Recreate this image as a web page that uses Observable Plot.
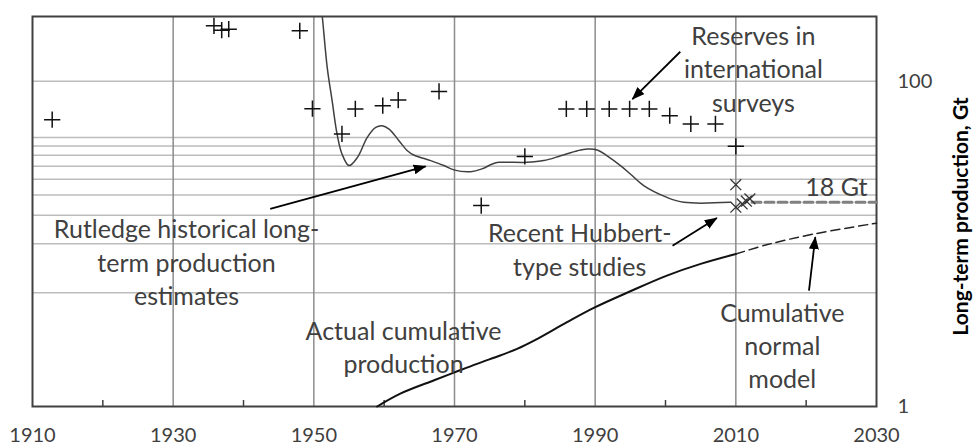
<!DOCTYPE html>
<html><head><meta charset="utf-8">
<script src="https://cdn.jsdelivr.net/npm/d3@7"></script>
<script src="https://cdn.jsdelivr.net/npm/@observablehq/plot@0.6"></script>
<style>body{margin:0;background:#fff;} #chart svg{font-family:Lato, sans-serif;}</style>
</head><body><div id="chart"></div>
<script>
// axis / grid
const xTickYears = [1910, 1930, 1950, 1970, 1990, 2010, 2030];
const minorTickYears = [1920, 1940, 1960, 1980, 2000, 2020];
const gridYears = [1930, 1950, 1970, 1990, 2010];
const yGridValues = [100, 45, 40, 35, 30, 25, 20, 15, 10, 5];
const yTickValues = [1, 100];
const yTitle = "Long-term production, Gt";

// reserves in international surveys (+)
const reserveYears  = [1912.8, 1935.8, 1936.9, 1937.9, 1948.0, 1949.8, 1954.0, 1955.9, 1959.8, 1962.0, 1967.8, 1973.8, 1980.0, 1985.9, 1988.8, 1992.0, 1994.9, 1997.7, 2000.6, 2003.6, 2007.1, 2010.0];
const reserveValues = [58.0, 219, 206, 209, 204, 67.8, 47.4, 67.5, 70.7, 76.6, 86.6, 17.2, 34.5, 67.5, 67.5, 67.5, 67.5, 67.5, 61.4, 54.6, 54.6, 39.8];

// recent Hubbert-type studies (x)
const hubbertYears  = [2010.0, 2010.0, 2010.9, 2011.5, 2012.0];
const hubbertValues = [23.1, 16.8, 17.6, 18.3, 18.9];

// Rutledge historical long-term production estimates
const rutledgeYears  = [1950.9, 1951.2, 1951.9, 1952.6, 1953.3, 1954.0, 1955.0, 1956.2, 1957.6, 1958.8, 1959.7, 1960.7, 1962.1, 1963.3, 1964.2, 1966.6, 1968.5, 1969.9, 1972.3, 1973.9, 1975.4, 1976.3, 1980.3, 1982.7, 1985.1, 1987.5, 1988.9, 1990.3, 1991.7, 1993.6, 1995.0, 1996.9, 2000.2, 2002.6, 2009.2];
const rutledgeValues = [320, 250, 121.6, 75.9, 47.4, 35.7, 30.3, 34.0, 45.2, 52.0, 53.3, 50.8, 43.1, 37.4, 35.2, 32.5, 30.3, 28.5, 27.8, 28.9, 31.0, 31.7, 31.7, 32.5, 34.8, 37.4, 38.3, 37.8, 34.8, 30.3, 26.9, 22.8, 19.3, 18.0, 18.0];

// actual cumulative production
const cumulativeYears  = [1959.0, 1962.3, 1967.1, 1970.0, 1973.2, 1976.5, 1978.9, 1981.3, 1986.0, 1989.8, 1995.0, 2000.2, 2005.0, 2010.0];
const cumulativeValues = [1.0, 1.2, 1.45, 1.62, 1.83, 2.06, 2.26, 2.54, 3.30, 4.04, 5.11, 6.38, 7.53, 8.66];

// cumulative normal model (dashed)
const modelYears  = [2010.0, 2014.5, 2021.1, 2030.0];
const modelValues = [8.66, 9.9, 11.5, 13.4];

// 18 Gt line
const limitYears  = [2012.3, 2030];
const limitValues = [18, 18];

// annotations
const noteLabels = ["Reserves in\ninternational\nsurveys", "Rutledge historical long-\nterm production\nestimates", "Recent Hubbert-\ntype studies", "Actual cumulative\nproduction", "Cumulative\nnormal\nmodel", "18 Gt"];
const noteYears  = [2012.5, 1931.9, 1987.8, 1962.75, 2016.6, 2024.3];
const noteValues = [116, 7.53, 8.99, 2.26, 2.31, 21.8];

// arrows
const arrowFromYears  = [2002.1, 1943.8, 2001.0, 2020.4];
const arrowFromValues = [151.8, 16.4, 9.75, 5.16];
const arrowToYears    = [1995.3, 1965.9, 2007.3, 2021.3];
const arrowToValues   = [77.7, 30.0, 14.4, 11.0];

const pts = (xs, ys) => xs.map((x, i) => ({x, y: ys[i]}));
const notes = noteLabels.map((t, i) => ({t, x: noteYears[i], y: noteValues[i]}));
const arrows = arrowFromYears.map((x1, i) => ({x1, y1: arrowFromValues[i], x2: arrowToYears[i], y2: arrowToValues[i]}));

const txt = "#404040";
const chart = Plot.plot({
  width: 973, height: 445,
  marginLeft: 32, marginRight: 97, marginTop: 16, marginBottom: 39,
  x: {domain: [1910, 2030], label: null},
  y: {type: "log", domain: [1, 250], label: null},
  style: {fontFamily: "Lato, sans-serif", fontSize: "20px", color: txt, background: "white", overflow: "visible"},
  marks: [
    Plot.ruleY(yGridValues, {stroke: "#bcbcbc", strokeWidth: 1.5}),
    Plot.ruleX(gridYears, {stroke: "#8c8c8c", strokeWidth: 1.5}),
    Plot.ruleX(minorTickYears, {insetTop: 384, stroke: "#404040", strokeWidth: 1.5}),
    Plot.frame({stroke: "#404040", strokeWidth: 2}),
    Plot.axisX({ticks: xTickYears, tickSize: 0, tickPadding: 21, tickFormat: d => String(d), fill: txt, fontSize: 20, label: null}),
    Plot.axisY({anchor: "right", ticks: yTickValues, tickSize: 0, tickPadding: 21, tickFormat: d => String(d), fill: txt, fontSize: 20, label: null}),
    Plot.text([yTitle], {frameAnchor: "right", textAnchor: "middle", dx: 85, dy: 5, rotate: -90, fontWeight: "bold", fontSize: 21, fill: "#000"}),
    Plot.line(pts(limitYears, limitValues), {x: "x", y: "y", stroke: "#808080", strokeWidth: 3, strokeDasharray: "9,4"}),
    Plot.line(pts(rutledgeYears, rutledgeValues), {x: "x", y: "y", stroke: "#404040", strokeWidth: 1.5, curve: "catmull-rom", clip: true}),
    Plot.line(pts(cumulativeYears, cumulativeValues), {x: "x", y: "y", stroke: "#111", strokeWidth: 2, curve: "catmull-rom"}),
    Plot.line(pts(modelYears, modelValues), {x: "x", y: "y", stroke: "#222", strokeWidth: 1.5, strokeDasharray: "9,5", curve: "catmull-rom"}),
    Plot.dot(pts(reserveYears, reserveValues), {x: "x", y: "y", symbol: "plus", r: 5.3, stroke: "#111", strokeWidth: 1.5}),
    Plot.dot(pts(hubbertYears, hubbertValues), {x: "x", y: "y", symbol: "times", r: 5, stroke: "#333", strokeWidth: 1.3}),
    Plot.link(arrows, {x1: "x1", y1: "y1", x2: "x2", y2: "y2", stroke: "#000", strokeWidth: 1.8}),
    Plot.text(notes, {x: "x", y: "y", text: "t", fill: txt, fontSize: 25, lineHeight: 1.33, dy: -3})
  ]
});

// filled arrowheads for the annotation arrows
const svg = d3.select(chart);
const defs = svg.insert("defs", ":first-child");
defs.append("marker").attr("id", "ahead").attr("viewBox", "0 0 13 10")
  .attr("refX", 12).attr("refY", 5).attr("markerWidth", 13).attr("markerHeight", 10)
  .attr("markerUnits", "userSpaceOnUse").attr("orient", "auto")
  .append("path").attr("d", "M0,0L13,5L0,10z").attr("fill", "#000");
svg.selectAll('g[aria-label="link"] path').attr("marker-end", "url(#ahead)");

document.getElementById("chart").appendChild(chart);
</script>
</body></html>
